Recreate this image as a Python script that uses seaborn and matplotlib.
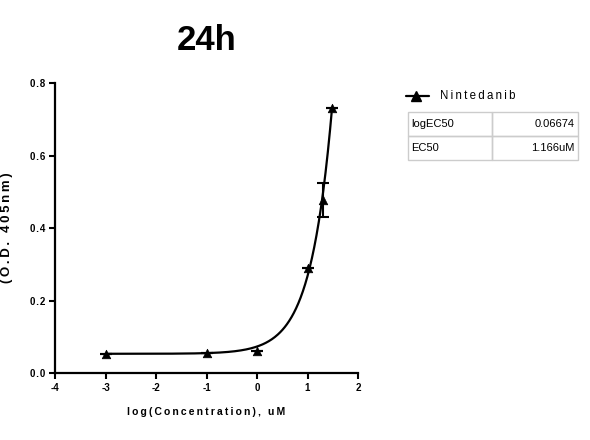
import numpy as np
import pandas as pd
import matplotlib
matplotlib.use('Agg')
import matplotlib.pyplot as plt
from matplotlib.patches import Rectangle
import seaborn as sns

# dados
log_conc = [-3, -1, 0, 1, 1.301, 1.477]
od = [0.052, 0.055, 0.061, 0.290, 0.477, 0.730]
od_err = [0, 0, 0, 0, 0.046, 0]

# parametros do ajuste (curva)
fit_bottom = 0.053
fit_a = 0.020
fit_b = 1.03
fit_xmin, fit_xmax = -3, 1.477

table_rows = [['logEC50', '0.06674'], ['EC50', '1.166uM']]
series_name = 'Nintedanib'
title = '24h'
xlabel = 'log(Concentration), uM'
ylabel = '(O.D. 405nm)'

sns.set_style('ticks')
plt.rcParams['font.family'] = ['Liberation Sans', 'DejaVu Sans']
plt.rcParams['text.color'] = 'black'
plt.rcParams['axes.labelcolor'] = 'black'
plt.rcParams['xtick.color'] = 'black'
plt.rcParams['ytick.color'] = 'black'
plt.rcParams['axes.edgecolor'] = 'black'

HS = '\u200a'  # espaco bem fino
TS = '\u2009'  # espaco fino


def spaced(s, sep=HS):
    return sep.join(s)


df = pd.DataFrame({'x': log_conc, 'y': od, 'err': od_err})
xs = np.linspace(fit_xmin, fit_xmax, 300)
curve = pd.DataFrame({'x': xs, 'y': fit_bottom + fit_a * 10 ** (fit_b * xs)})

fig = plt.figure(figsize=(5.9, 4.4), dpi=100)
ax = fig.add_axes([55 / 590, 1 - 373 / 440, 303 / 590, 290 / 440])

sns.lineplot(data=curve, x='x', y='y', ax=ax, color='black', linewidth=1.6)
ax.errorbar(df['x'], df['y'], yerr=df['err'], fmt='none', ecolor='black',
            elinewidth=1.5, capsize=4, capthick=1.5)
sns.scatterplot(data=df, x='x', y='y', ax=ax, marker='^', color='black',
                s=38, edgecolor='black', linewidth=0.5, zorder=5)

ax.set_xlim(-4, 2)
ax.set_ylim(0, 0.8)
ax.set_xticks(range(-4, 3))
ax.set_yticks([0, 0.2, 0.4, 0.6, 0.8])
ax.set_xticklabels([str(v) for v in range(-4, 3)], fontweight='bold', fontsize=7)
ax.set_yticklabels([spaced('%.1f' % v) for v in [0, 0.2, 0.4, 0.6, 0.8]],
                   fontweight='bold', fontsize=7)
ax.tick_params(direction='out', length=4, width=1.5, pad=3)
sns.despine(ax=ax)
for sp in ['left', 'bottom']:
    ax.spines[sp].set_linewidth(1.6)
ax.set_xlabel(spaced(xlabel, TS), fontweight='bold', fontsize=7.5, labelpad=10)
ax.set_ylabel('')
ax.set_title(title, fontweight='bold', fontsize=25, pad=24)

fig.text(7 / 590, 1 - 228 / 440, spaced(ylabel, TS), rotation=90, ha='center',
         va='center', fontweight='bold', fontsize=9.5)

# legenda
ax.plot([1.158, 1.235], [0.955, 0.955], transform=ax.transAxes, color='black',
        lw=1.6, clip_on=False)
ax.plot([1.193], [0.955], transform=ax.transAxes, color='black', marker='^',
        markersize=6.5, clip_on=False)
ax.text(1.27, 0.955, spaced(series_name, TS), transform=ax.transAxes,
        fontsize=8.3, va='center', ha='left')

# tabela (desenhada a mao)
tx0, tw, ty_top, row_h = 1.165, 0.561, 0.9, 0.083
col_split = 0.277
for i, (name, val) in enumerate(table_rows):
    y0 = ty_top - (i + 1) * row_h
    ax.add_patch(Rectangle((tx0, y0), col_split, row_h, transform=ax.transAxes,
                           fill=False, edgecolor='#cccccc', lw=1, clip_on=False))
    ax.add_patch(Rectangle((tx0 + col_split, y0), tw - col_split, row_h,
                           transform=ax.transAxes, fill=False,
                           edgecolor='#cccccc', lw=1, clip_on=False))
    ax.text(tx0 + 0.01, y0 + row_h / 2, name, transform=ax.transAxes,
            fontsize=8, va='center', ha='left')
    ax.text(tx0 + tw - 0.01, y0 + row_h / 2, val, transform=ax.transAxes,
            fontsize=8, va='center', ha='right')

fig.savefig('out.png', dpi=100)
